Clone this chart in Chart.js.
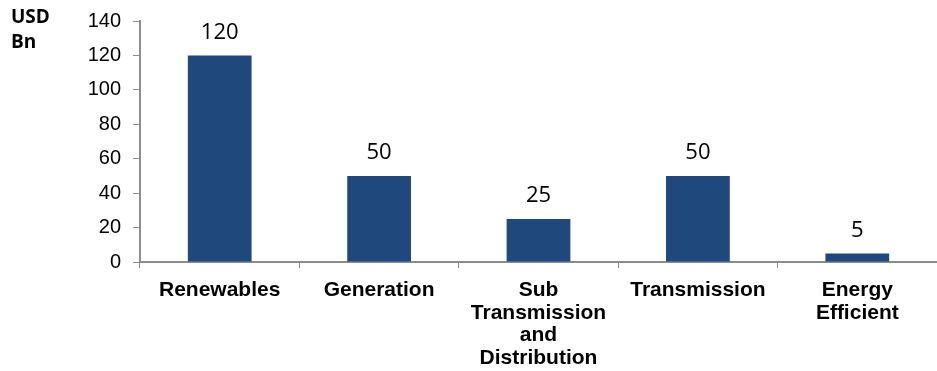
<!DOCTYPE html>
<html>
<head>
<meta charset="utf-8">
<script src="https://cdn.jsdelivr.net/npm/chart.js@4.4.1/dist/chart.umd.min.js"></script>
<style>
html,body{margin:0;padding:0;background:#fff;}
#wrap{width:937px;height:371px;position:relative;}
</style>
</head>
<body>
<div id="wrap"><canvas id="c" width="937" height="371"></canvas></div>
<script>
const categories = [["Renewables"], ["Generation"], ["Sub", "Transmission", "and", "Distribution"], ["Transmission"], ["Energy", "Efficient"]];
const values = [120, 50, 25, 50, 5];
const yTicks = [0, 20, 40, 60, 80, 100, 120, 140];
const unitLabel = ["USD", "Bn"];

const barColor = '#1F497D';
const axisColor = '#8c8c8c';

const valueLabels = {
  id: 'valueLabels',
  afterDatasetsDraw(chart) {
    const ctx = chart.ctx;
    const meta = chart.getDatasetMeta(0);
    ctx.save();
    ctx.font = '22px "Open Sans"';
    ctx.fillStyle = '#000';
    ctx.textAlign = 'center';
    ctx.textBaseline = 'bottom';
    meta.data.forEach((bar, i) => {
      ctx.fillText(String(values[i]), bar.x, bar.y - 12);
    });
    ctx.restore();
  }
};

const unitPlugin = {
  id: 'unitPlugin',
  afterDraw(chart) {
    const ctx = chart.ctx;
    ctx.save();
    ctx.font = 'bold 19px "Open Sans"';
    ctx.fillStyle = '#000';
    ctx.textAlign = 'left';
    ctx.textBaseline = 'top';
    ctx.fillText(unitLabel[0], 11, 8);
    ctx.fillText(unitLabel[1], 11, 33);
    ctx.restore();
  }
};

new Chart(document.getElementById('c'), {
  type: 'bar',
  data: {
    labels: categories,
    datasets: [{
      data: values,
      backgroundColor: barColor,
      borderWidth: 0,
      categoryPercentage: 1.0,
      barPercentage: 0.4
    }]
  },
  options: {
    responsive: false,
    animation: false,
    layout: { padding: { top: 21, right: 0, left: 0, bottom: 0 } },
    plugins: { legend: { display: false }, tooltip: { enabled: false } },
    scales: {
      x: {
        grid: { display: true, drawOnChartArea: false, drawTicks: true, tickLength: 6, color: axisColor, offset: true },
        border: { display: true, color: axisColor, width: 2 },
        ticks: {
          color: '#000',
          font: { family: 'Liberation Sans', size: 21, weight: 'bold', lineHeight: 1.08 },
          padding: 11,
          maxRotation: 0,
          autoSkip: false
        },
        afterFit(s) { s.height = 109; s.paddingLeft = 0; s.paddingRight = 0; }
      },
      y: {
        min: 0, max: 140,
        afterBuildTicks(s) { s.ticks = yTicks.map(v => ({ value: v })); },
        grid: { display: true, drawOnChartArea: false, drawTicks: true, tickLength: 7, color: axisColor },
        border: { display: true, color: axisColor, width: 2 },
        ticks: {
          color: '#000',
          font: { family: 'Liberation Sans', size: 20 },
          padding: 12
        },
        afterFit(s) { s.width = 140; s.paddingTop = 0; s.paddingBottom = 0; }
      }
    }
  },
  plugins: [valueLabels, unitPlugin]
});
</script>
</body>
</html>
